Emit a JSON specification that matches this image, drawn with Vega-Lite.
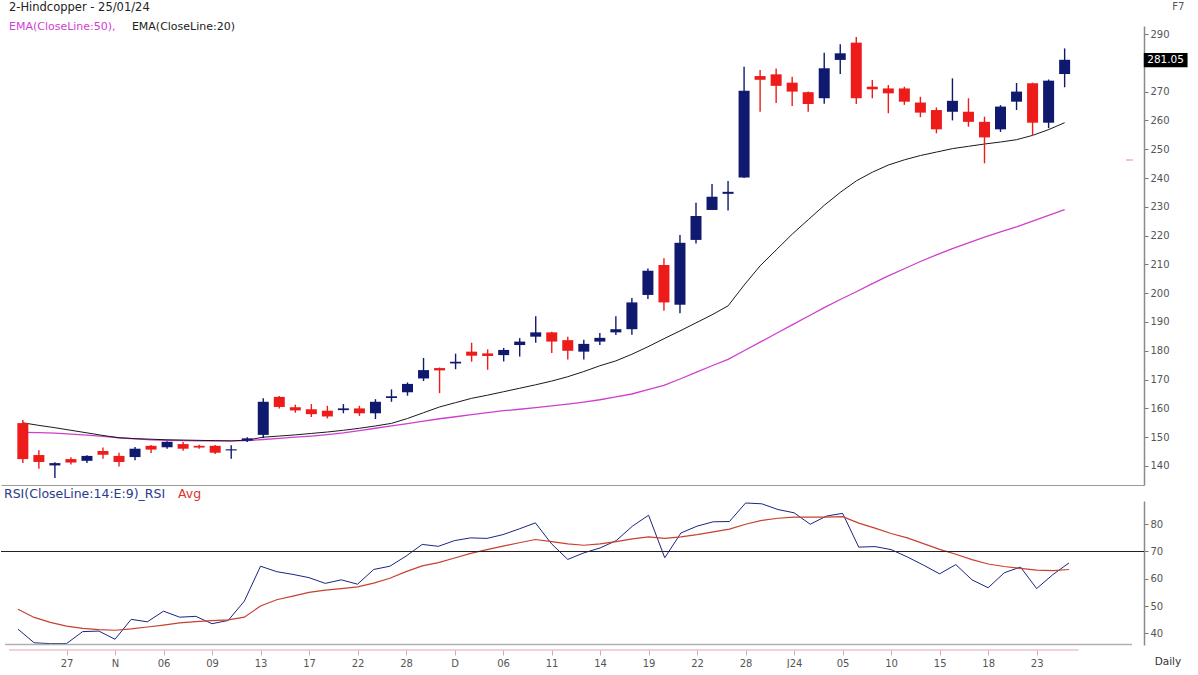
{
  "$schema": "https://vega.github.io/schema/vega-lite/v6.json",
  "background": "white",
  "padding": {"left": 0, "top": 2, "right": 0, "bottom": 0},
  "spacing": 3,
  "config": {"view": {"stroke": null}, "font": "DejaVu Sans"},
  "datasets": {
    "bars": [
      {"i":0,"open":154.9,"high":156.0,"low":141.0,"close":142.4,"ema20":155.0,"ema50":151.7,"rsi":41.5,"avg":48.8},
      {"i":1,"open":143.8,"high":145.5,"low":139.0,"close":141.4,"ema20":154.1,"ema50":151.6,"rsi":36.5,"avg":45.8},
      {"i":2,"open":140.2,"high":141.3,"low":135.8,"close":141.0,"ema20":153.3,"ema50":151.4,"rsi":36.2,"avg":44.0},
      {"i":3,"open":142.4,"high":143.0,"low":140.5,"close":141.2,"ema20":152.4,"ema50":151.1,"rsi":36.2,"avg":42.6},
      {"i":4,"open":141.8,"high":143.7,"low":141.0,"close":143.5,"ema20":151.5,"ema50":150.7,"rsi":40.6,"avg":41.8},
      {"i":5,"open":145.2,"high":146.4,"low":142.5,"close":143.9,"ema20":150.6,"ema50":150.3,"rsi":40.8,"avg":41.3},
      {"i":6,"open":143.5,"high":144.6,"low":139.8,"close":141.4,"ema20":149.8,"ema50":149.8,"rsi":37.8,"avg":41.1},
      {"i":7,"open":143.1,"high":146.6,"low":142.0,"close":146.0,"ema20":149.5,"ema50":149.4,"rsi":45.1,"avg":41.6},
      {"i":8,"open":147.0,"high":147.3,"low":144.5,"close":145.7,"ema20":149.3,"ema50":149.1,"rsi":44.2,"avg":42.3},
      {"i":9,"open":146.5,"high":148.6,"low":146.0,"close":148.4,"ema20":149.1,"ema50":148.9,"rsi":48.1,"avg":43.0},
      {"i":10,"open":147.6,"high":148.3,"low":145.3,"close":146.0,"ema20":149.0,"ema50":148.8,"rsi":45.9,"avg":43.8},
      {"i":11,"open":147.0,"high":147.4,"low":146.0,"close":146.4,"ema20":148.9,"ema50":148.7,"rsi":46.2,"avg":44.3},
      {"i":12,"open":147.0,"high":147.3,"low":144.2,"close":144.6,"ema20":148.8,"ema50":148.7,"rsi":43.5,"avg":44.6},
      {"i":13,"open":145.4,"high":147.2,"low":142.5,"close":145.8,"ema20":148.7,"ema50":148.7,"rsi":44.7,"avg":44.9},
      {"i":14,"open":148.8,"high":150.0,"low":148.3,"close":149.6,"ema20":149.0,"ema50":148.8,"rsi":51.8,"avg":45.9},
      {"i":15,"open":150.8,"high":163.5,"low":149.7,"close":162.3,"ema20":150.0,"ema50":149.2,"rsi":64.6,"avg":50.0},
      {"i":16,"open":164.0,"high":164.3,"low":160.0,"close":160.5,"ema20":150.4,"ema50":149.6,"rsi":62.6,"avg":52.3},
      {"i":17,"open":160.4,"high":161.3,"low":158.5,"close":159.3,"ema20":150.8,"ema50":150.0,"rsi":61.6,"avg":53.6},
      {"i":18,"open":159.7,"high":161.5,"low":157.0,"close":158.0,"ema20":151.3,"ema50":150.4,"rsi":60.4,"avg":55.0},
      {"i":19,"open":159.2,"high":160.9,"low":156.5,"close":157.2,"ema20":151.8,"ema50":150.9,"rsi":58.3,"avg":55.8},
      {"i":20,"open":159.4,"high":161.5,"low":158.3,"close":160.0,"ema20":152.4,"ema50":151.5,"rsi":59.6,"avg":56.4},
      {"i":21,"open":160.0,"high":160.9,"low":157.4,"close":158.3,"ema20":153.1,"ema50":152.3,"rsi":58.0,"avg":57.0},
      {"i":22,"open":158.3,"high":163.2,"low":156.3,"close":162.3,"ema20":153.9,"ema50":153.1,"rsi":63.4,"avg":58.4},
      {"i":23,"open":163.6,"high":166.6,"low":162.3,"close":164.2,"ema20":154.8,"ema50":153.9,"rsi":64.6,"avg":60.2},
      {"i":24,"open":165.6,"high":169.0,"low":164.4,"close":168.5,"ema20":156.5,"ema50":154.7,"rsi":68.3,"avg":62.6},
      {"i":25,"open":170.4,"high":177.5,"low":169.5,"close":173.3,"ema20":158.5,"ema50":155.6,"rsi":72.6,"avg":64.7},
      {"i":26,"open":174.0,"high":174.2,"low":165.3,"close":173.2,"ema20":160.5,"ema50":156.4,"rsi":71.9,"avg":65.9},
      {"i":27,"open":175.6,"high":179.0,"low":173.6,"close":176.2,"ema20":162.0,"ema50":157.1,"rsi":74.0,"avg":67.6},
      {"i":28,"open":179.7,"high":182.8,"low":176.2,"close":178.3,"ema20":163.5,"ema50":157.8,"rsi":75.0,"avg":69.3},
      {"i":29,"open":179.1,"high":180.5,"low":173.4,"close":178.2,"ema20":164.6,"ema50":158.5,"rsi":74.8,"avg":70.7},
      {"i":30,"open":178.5,"high":181.0,"low":176.3,"close":180.3,"ema20":165.8,"ema50":159.2,"rsi":76.2,"avg":72.0},
      {"i":31,"open":182.0,"high":184.4,"low":178.0,"close":183.2,"ema20":167.0,"ema50":159.7,"rsi":78.3,"avg":73.2},
      {"i":32,"open":184.9,"high":192.0,"low":182.8,"close":186.4,"ema20":168.2,"ema50":160.3,"rsi":80.5,"avg":74.4},
      {"i":33,"open":186.4,"high":186.6,"low":179.2,"close":183.2,"ema20":169.5,"ema50":160.9,"rsi":72.8,"avg":73.6},
      {"i":34,"open":183.7,"high":184.9,"low":177.0,"close":180.0,"ema20":171.0,"ema50":161.5,"rsi":67.1,"avg":72.8},
      {"i":35,"open":179.7,"high":183.8,"low":177.0,"close":182.4,"ema20":172.8,"ema50":162.2,"rsi":69.5,"avg":72.3},
      {"i":36,"open":183.2,"high":186.2,"low":182.0,"close":184.5,"ema20":174.8,"ema50":163.0,"rsi":71.3,"avg":72.8},
      {"i":37,"open":186.4,"high":192.0,"low":185.5,"close":187.5,"ema20":176.5,"ema50":164.0,"rsi":74.0,"avg":73.6},
      {"i":38,"open":187.5,"high":198.3,"low":185.6,"close":196.8,"ema20":178.8,"ema50":165.0,"rsi":79.3,"avg":74.6},
      {"i":39,"open":199.4,"high":208.6,"low":198.0,"close":207.8,"ema20":181.4,"ema50":166.5,"rsi":83.3,"avg":75.4},
      {"i":40,"open":209.8,"high":212.1,"low":193.9,"close":196.8,"ema20":184.2,"ema50":168.0,"rsi":67.7,"avg":74.8},
      {"i":41,"open":196.0,"high":220.2,"low":193.0,"close":217.5,"ema20":186.9,"ema50":170.2,"rsi":76.8,"avg":75.4},
      {"i":42,"open":218.5,"high":231.4,"low":217.3,"close":226.8,"ema20":189.7,"ema50":172.5,"rsi":79.3,"avg":76.2},
      {"i":43,"open":228.9,"high":237.9,"low":228.9,"close":233.5,"ema20":192.5,"ema50":174.8,"rsi":80.9,"avg":77.2},
      {"i":44,"open":234.5,"high":239.0,"low":228.7,"close":235.2,"ema20":195.6,"ema50":177.0,"rsi":81.0,"avg":78.2},
      {"i":45,"open":240.2,"high":278.6,"low":240.0,"close":270.3,"ema20":202.8,"ema50":180.0,"rsi":87.8,"avg":80.0},
      {"i":46,"open":275.4,"high":277.5,"low":263.0,"close":274.1,"ema20":209.5,"ema50":183.0,"rsi":87.5,"avg":81.4},
      {"i":47,"open":276.0,"high":278.0,"low":266.0,"close":272.0,"ema20":215.0,"ema50":186.0,"rsi":85.4,"avg":82.2},
      {"i":48,"open":273.1,"high":275.2,"low":265.0,"close":270.0,"ema20":220.5,"ema50":189.0,"rsi":84.2,"avg":82.6},
      {"i":49,"open":269.8,"high":270.0,"low":263.0,"close":265.7,"ema20":225.5,"ema50":192.0,"rsi":80.0,"avg":82.6},
      {"i":50,"open":267.7,"high":283.5,"low":265.8,"close":278.1,"ema20":230.5,"ema50":195.0,"rsi":83.0,"avg":82.6},
      {"i":51,"open":281.0,"high":286.4,"low":276.1,"close":283.3,"ema20":235.0,"ema50":197.8,"rsi":84.0,"avg":82.8},
      {"i":52,"open":287.0,"high":289.0,"low":265.7,"close":267.7,"ema20":239.0,"ema50":200.5,"rsi":71.6,"avg":80.4},
      {"i":53,"open":271.7,"high":274.0,"low":267.7,"close":270.8,"ema20":242.0,"ema50":203.3,"rsi":71.8,"avg":78.6},
      {"i":54,"open":271.1,"high":272.3,"low":262.5,"close":269.4,"ema20":244.5,"ema50":206.0,"rsi":70.7,"avg":76.6},
      {"i":55,"open":271.1,"high":271.7,"low":265.4,"close":266.5,"ema20":246.3,"ema50":208.5,"rsi":68.0,"avg":75.0},
      {"i":56,"open":266.2,"high":268.2,"low":261.1,"close":262.7,"ema20":247.8,"ema50":211.0,"rsi":65.0,"avg":72.9},
      {"i":57,"open":263.6,"high":264.5,"low":255.5,"close":256.9,"ema20":249.0,"ema50":213.3,"rsi":61.8,"avg":70.8},
      {"i":58,"open":263.0,"high":274.6,"low":260.0,"close":266.8,"ema20":250.2,"ema50":215.5,"rsi":65.2,"avg":69.0},
      {"i":59,"open":263.0,"high":267.7,"low":257.8,"close":259.5,"ema20":251.0,"ema50":217.5,"rsi":59.6,"avg":67.0},
      {"i":60,"open":259.5,"high":261.3,"low":245.1,"close":254.1,"ema20":251.8,"ema50":219.5,"rsi":56.7,"avg":65.4},
      {"i":61,"open":256.9,"high":265.3,"low":256.0,"close":264.8,"ema20":252.5,"ema50":221.3,"rsi":62.2,"avg":64.5},
      {"i":62,"open":266.5,"high":273.0,"low":263.6,"close":270.0,"ema20":253.3,"ema50":223.0,"rsi":64.3,"avg":63.8},
      {"i":63,"open":272.9,"high":273.1,"low":254.9,"close":259.2,"ema20":254.8,"ema50":225.0,"rsi":56.4,"avg":63.2},
      {"i":64,"open":259.2,"high":274.2,"low":257.3,"close":273.8,"ema20":256.8,"ema50":227.0,"rsi":61.5,"avg":63.0},
      {"i":65,"open":276.1,"high":285.0,"low":271.5,"close":281.05,"ema20":259.2,"ema50":229.0,"rsi":65.8,"avg":63.4}
    ]
  },
  "vconcat": [
    {
      "width": 1143,
      "height": 459,
      "data": {"name": "bars"},
      "layer": [
        {
          "mark": {"type": "line", "color": "#cf3fcf", "strokeWidth": 1.3},
          "encoding": {
            "x": {"field": "i", "type": "quantitative", "scale": {"domain": [-1.051, 69.64], "nice": false, "zero": false},
                  "axis": {"title": null, "labels": false, "ticks": false, "grid": false, "domain": true, "domainColor": "#9a9a9a", "domainWidth": 1}},
            "y": {"field": "ema50", "type": "quantitative", "scale": {"domain": [133.4, 292.78], "nice": false, "zero": false},
                  "axis": {"title": null, "orient": "right", "grid": false, "values": [140,150,160,170,180,190,200,210,220,230,240,250,260,270,280,290],
                           "labelOverlap": false, "labelBound": false, "labelFlush": false,
                           "tickSize": 4, "labelPadding": 2, "domainColor": "#8a8a8a", "domainWidth": 1.5, "tickColor": "#777",
                           "labelColor": "#555", "labelFont": "DejaVu Sans", "labelFontSize": 10}}
          }
        },
        {
          "mark": {"type": "line", "color": "#1a1a1a", "strokeWidth": 1},
          "encoding": {
            "x": {"field": "i", "type": "quantitative",
                  "axis": {"title": null, "labels": false, "ticks": false, "grid": false, "domain": true, "domainColor": "#9a9a9a", "domainWidth": 1}},
            "y": {"field": "ema20", "type": "quantitative",
                  "axis": {"title": null, "orient": "right", "grid": false, "values": [140,150,160,170,180,190,200,210,220,230,240,250,260,270,280,290],
                           "labelOverlap": false, "labelBound": false, "labelFlush": false,
                           "tickSize": 4, "labelPadding": 2, "domainColor": "#8a8a8a", "domainWidth": 1.5, "tickColor": "#777",
                           "labelColor": "#555", "labelFont": "DejaVu Sans", "labelFontSize": 10}}
          }
        },
        {
          "mark": {"type": "rule", "strokeWidth": 1.4},
          "encoding": {
            "x": {"field": "i", "type": "quantitative",
                  "axis": {"title": null, "labels": false, "ticks": false, "grid": false, "domain": true, "domainColor": "#9a9a9a", "domainWidth": 1}},
            "y": {"field": "low", "type": "quantitative",
                  "axis": {"title": null, "orient": "right", "grid": false, "values": [140,150,160,170,180,190,200,210,220,230,240,250,260,270,280,290],
                           "labelOverlap": false, "labelBound": false, "labelFlush": false,
                           "tickSize": 4, "labelPadding": 2, "domainColor": "#8a8a8a", "domainWidth": 1.5, "tickColor": "#777",
                           "labelColor": "#555", "labelFont": "DejaVu Sans", "labelFontSize": 10}},
            "y2": {"field": "high"},
            "color": {"condition": {"test": "datum.close >= datum.open", "value": "#0f1a6e"}, "value": "#ee1b1b"}
          }
        },
        {
          "mark": {"type": "bar", "size": 11},
          "encoding": {
            "x": {"field": "i", "type": "quantitative",
                  "axis": {"title": null, "labels": false, "ticks": false, "grid": false, "domain": true, "domainColor": "#9a9a9a", "domainWidth": 1}},
            "y": {"field": "open", "type": "quantitative",
                  "axis": {"title": null, "orient": "right", "grid": false, "values": [140,150,160,170,180,190,200,210,220,230,240,250,260,270,280,290],
                           "labelOverlap": false, "labelBound": false, "labelFlush": false,
                           "tickSize": 4, "labelPadding": 2, "domainColor": "#8a8a8a", "domainWidth": 1.5, "tickColor": "#777",
                           "labelColor": "#555", "labelFont": "DejaVu Sans", "labelFontSize": 10}},
            "y2": {"field": "close"},
            "color": {"condition": {"test": "datum.close >= datum.open", "value": "#0f1a6e"}, "value": "#ee1b1b"}
          }
        },
        {
          "data": {"values": [{"label": "2-Hindcopper - 25/01/24"}]},
          "mark": {"type": "text", "align": "left", "baseline": "top", "fontSize": 11.5, "color": "#222"},
          "encoding": {"text": {"field": "label"},
                       "x": {"datum": -0.866, "type": "quantitative", "axis": {"title": null, "labels": false, "ticks": false, "grid": false, "domain": true, "domainColor": "#9a9a9a", "domainWidth": 1}},
                       "y": {"datum": 301.11, "type": "quantitative",
                             "axis": {"title": null, "orient": "right", "grid": false, "values": [140,150,160,170,180,190,200,210,220,230,240,250,260,270,280,290],
                                      "labelOverlap": false, "labelBound": false, "labelFlush": false,
                                      "tickSize": 4, "labelPadding": 2, "domainColor": "#8a8a8a", "domainWidth": 1.5, "tickColor": "#777",
                                      "labelColor": "#555", "labelFont": "DejaVu Sans", "labelFontSize": 10}}}
        },
        {
          "data": {"values": [{"label": "EMA(CloseLine:50),"}]},
          "mark": {"type": "text", "align": "left", "baseline": "top", "fontSize": 11, "color": "#d040d0"},
          "encoding": {"text": {"field": "label"},
                       "x": {"datum": -0.866, "type": "quantitative", "axis": {"title": null, "labels": false, "ticks": false, "grid": false, "domain": true, "domainColor": "#9a9a9a", "domainWidth": 1}},
                       "y": {"datum": 294.52, "type": "quantitative",
                             "axis": {"title": null, "orient": "right", "grid": false, "values": [140,150,160,170,180,190,200,210,220,230,240,250,260,270,280,290],
                                      "labelOverlap": false, "labelBound": false, "labelFlush": false,
                                      "tickSize": 4, "labelPadding": 2, "domainColor": "#8a8a8a", "domainWidth": 1.5, "tickColor": "#777",
                                      "labelColor": "#555", "labelFont": "DejaVu Sans", "labelFontSize": 10}}}
        },
        {
          "data": {"values": [{"label": "EMA(CloseLine:20)"}]},
          "mark": {"type": "text", "align": "left", "baseline": "top", "fontSize": 11, "color": "#222"},
          "encoding": {"text": {"field": "label"},
                       "x": {"datum": 6.803, "type": "quantitative", "axis": {"title": null, "labels": false, "ticks": false, "grid": false, "domain": true, "domainColor": "#9a9a9a", "domainWidth": 1}},
                       "y": {"datum": 294.52, "type": "quantitative",
                             "axis": {"title": null, "orient": "right", "grid": false, "values": [140,150,160,170,180,190,200,210,220,230,240,250,260,270,280,290],
                                      "labelOverlap": false, "labelBound": false, "labelFlush": false,
                                      "tickSize": 4, "labelPadding": 2, "domainColor": "#8a8a8a", "domainWidth": 1.5, "tickColor": "#777",
                                      "labelColor": "#555", "labelFont": "DejaVu Sans", "labelFontSize": 10}}}
        },
        {
          "data": {"values": [{"label": "F7"}]},
          "mark": {"type": "text", "align": "center", "baseline": "top", "fontSize": 10, "color": "#555"},
          "encoding": {"text": {"field": "label"},
                       "x": {"datum": 72.1, "type": "quantitative", "axis": {"title": null, "labels": false, "ticks": false, "grid": false, "domain": true, "domainColor": "#9a9a9a", "domainWidth": 1}},
                       "y": {"datum": 301.11, "type": "quantitative",
                             "axis": {"title": null, "orient": "right", "grid": false, "values": [140,150,160,170,180,190,200,210,220,230,240,250,260,270,280,290],
                                      "labelOverlap": false, "labelBound": false, "labelFlush": false,
                                      "tickSize": 4, "labelPadding": 2, "domainColor": "#8a8a8a", "domainWidth": 1.5, "tickColor": "#777",
                                      "labelColor": "#555", "labelFont": "DejaVu Sans", "labelFontSize": 10}}}
        },
        {
          "data": {"values": [{"last": 281.05}]},
          "mark": {"type": "rect", "color": "#000"},
          "encoding": {"x": {"datum": 69.94, "type": "quantitative", "axis": {"title": null, "labels": false, "ticks": false, "grid": false, "domain": true, "domainColor": "#9a9a9a", "domainWidth": 1}},
                       "x2": {"datum": 72.67},
                       "y": {"datum": 283.4, "type": "quantitative",
                             "axis": {"title": null, "orient": "right", "grid": false, "values": [140,150,160,170,180,190,200,210,220,230,240,250,260,270,280,290],
                                      "labelOverlap": false, "labelBound": false, "labelFlush": false,
                                      "tickSize": 4, "labelPadding": 2, "domainColor": "#8a8a8a", "domainWidth": 1.5, "tickColor": "#777",
                                      "labelColor": "#555", "labelFont": "DejaVu Sans", "labelFontSize": 10}},
                       "y2": {"datum": 278.5}}
        },
        {
          "data": {"values": [{"last": 281.05}]},
          "mark": {"type": "text", "align": "center", "baseline": "middle", "fontSize": 10.5, "color": "white"},
          "encoding": {"text": {"field": "last", "format": ".2f"},
                       "x": {"datum": 71.3, "type": "quantitative", "axis": {"title": null, "labels": false, "ticks": false, "grid": false, "domain": true, "domainColor": "#9a9a9a", "domainWidth": 1}},
                       "y": {"field": "last", "type": "quantitative",
                             "axis": {"title": null, "orient": "right", "grid": false, "values": [140,150,160,170,180,190,200,210,220,230,240,250,260,270,280,290],
                                      "labelOverlap": false, "labelBound": false, "labelFlush": false,
                                      "tickSize": 4, "labelPadding": 2, "domainColor": "#8a8a8a", "domainWidth": 1.5, "tickColor": "#777",
                                      "labelColor": "#555", "labelFont": "DejaVu Sans", "labelFontSize": 10}}}
        },
        {
          "data": {"values": [{"level": 246.25}]},
          "mark": {"type": "rule", "color": "#e58a8a", "strokeWidth": 1},
          "encoding": {"x": {"datum": 68.83, "type": "quantitative", "axis": {"title": null, "labels": false, "ticks": false, "grid": false, "domain": true, "domainColor": "#9a9a9a", "domainWidth": 1}},
                       "x2": {"datum": 69.26},
                       "y": {"field": "level", "type": "quantitative",
                             "axis": {"title": null, "orient": "right", "grid": false, "values": [140,150,160,170,180,190,200,210,220,230,240,250,260,270,280,290],
                                      "labelOverlap": false, "labelBound": false, "labelFlush": false,
                                      "tickSize": 4, "labelPadding": 2, "domainColor": "#8a8a8a", "domainWidth": 1.5, "tickColor": "#777",
                                      "labelColor": "#555", "labelFont": "DejaVu Sans", "labelFontSize": 10}}}
        }
      ]
    },
    {
      "width": 1143,
      "height": 144,
      "data": {"name": "bars"},
      "layer": [
        {
          "mark": {"type": "line", "color": "#1b2580", "strokeWidth": 1},
          "encoding": {
            "x": {"field": "i", "type": "quantitative", "scale": {"domain": [-1.051, 69.64], "nice": false, "zero": false},
                  "axis": {"title": null, "orient": "bottom", "grid": false, "domain": false, "offset": 5,
                           "values": [3,6,9,12,15,18,21,24,27,30,33,36,39,42,45,48,51,54,57,60,63],
                           "labelExpr": "['27','N','06','09','13','17','22','28','D','06','11','14','19','22','28','J24','05','10','15','18','23'][round((datum.value-3)/3)]",
                           "labelOverlap": false,
                           "tickColor": "#e3a6ad", "tickSize": 5, "labelPadding": 3, "labelColor": "#555", "labelFont": "DejaVu Sans", "labelFontSize": 10}},
            "y": {"field": "rsi", "type": "quantitative", "scale": {"domain": [35.69, 88.53], "nice": false, "zero": false},
                  "axis": {"title": null, "orient": "right", "grid": false, "values": [40,50,60,70,80],
                           "labelOverlap": false, "labelBound": false, "labelFlush": false,
                           "tickSize": 4, "labelPadding": 2, "domainColor": "#8a8a8a", "domainWidth": 1.5, "tickColor": "#777",
                           "labelColor": "#555", "labelFont": "DejaVu Sans", "labelFontSize": 10}}
          }
        },
        {
          "mark": {"type": "line", "color": "#c8402f", "strokeWidth": 1.2},
          "encoding": {
            "x": {"field": "i", "type": "quantitative",
                  "axis": {"title": null, "orient": "bottom", "grid": false, "domain": false, "offset": 5,
                           "values": [3,6,9,12,15,18,21,24,27,30,33,36,39,42,45,48,51,54,57,60,63],
                           "labelExpr": "['27','N','06','09','13','17','22','28','D','06','11','14','19','22','28','J24','05','10','15','18','23'][round((datum.value-3)/3)]",
                           "labelOverlap": false,
                           "tickColor": "#e3a6ad", "tickSize": 5, "labelPadding": 3, "labelColor": "#555", "labelFont": "DejaVu Sans", "labelFontSize": 10}},
            "y": {"field": "avg", "type": "quantitative",
                  "axis": {"title": null, "orient": "right", "grid": false, "values": [40,50,60,70,80],
                           "labelOverlap": false, "labelBound": false, "labelFlush": false,
                           "tickSize": 4, "labelPadding": 2, "domainColor": "#8a8a8a", "domainWidth": 1.5, "tickColor": "#777",
                           "labelColor": "#555", "labelFont": "DejaVu Sans", "labelFontSize": 10}}
          }
        },
        {
          "data": {"values": [{"level": 70}]},
          "mark": {"type": "rule", "color": "#222", "strokeWidth": 1.2},
          "encoding": {"y": {"field": "level", "type": "quantitative",
                             "axis": {"title": null, "orient": "right", "grid": false, "values": [40,50,60,70,80],
                                      "labelOverlap": false, "labelBound": false, "labelFlush": false,
                                      "tickSize": 4, "labelPadding": 2, "domainColor": "#8a8a8a", "domainWidth": 1.5, "tickColor": "#777",
                                      "labelColor": "#555", "labelFont": "DejaVu Sans", "labelFontSize": 10}}}
        },
        {
          "data": {"values": [{}]},
          "mark": {"type": "rule", "color": "#b0b0b0", "strokeWidth": 1.5},
          "encoding": {"x": {"datum": -0.8, "type": "quantitative",
                             "axis": {"title": null, "orient": "bottom", "grid": false, "domain": false, "offset": 5,
                                      "values": [3,6,9,12,15,18,21,24,27,30,33,36,39,42,45,48,51,54,57,60,63],
                                      "labelExpr": "['27','N','06','09','13','17','22','28','D','06','11','14','19','22','28','J24','05','10','15','18','23'][round((datum.value-3)/3)]",
                                      "labelOverlap": false,
                                      "tickColor": "#e3a6ad", "tickSize": 5, "labelPadding": 3, "labelColor": "#555", "labelFont": "DejaVu Sans", "labelFontSize": 10}},
                       "x2": {"datum": 68.9},
                       "y": {"datum": 35.85, "type": "quantitative",
                             "axis": {"title": null, "orient": "right", "grid": false, "values": [40,50,60,70,80],
                                      "labelOverlap": false, "labelBound": false, "labelFlush": false,
                                      "tickSize": 4, "labelPadding": 2, "domainColor": "#8a8a8a", "domainWidth": 1.5, "tickColor": "#777",
                                      "labelColor": "#555", "labelFont": "DejaVu Sans", "labelFontSize": 10}}}
        },
        {
          "data": {"values": [{}]},
          "mark": {"type": "rule", "color": "#e3a6ad", "strokeWidth": 1.2},
          "encoding": {"x": {"datum": -0.55, "type": "quantitative",
                             "axis": {"title": null, "orient": "bottom", "grid": false, "domain": false, "offset": 5,
                                      "values": [3,6,9,12,15,18,21,24,27,30,33,36,39,42,45,48,51,54,57,60,63],
                                      "labelExpr": "['27','N','06','09','13','17','22','28','D','06','11','14','19','22','28','J24','05','10','15','18','23'][round((datum.value-3)/3)]",
                                      "labelOverlap": false,
                                      "tickColor": "#e3a6ad", "tickSize": 5, "labelPadding": 3, "labelColor": "#555", "labelFont": "DejaVu Sans", "labelFontSize": 10}},
                       "x2": {"datum": 65.6},
                       "y": {"datum": 33.85, "type": "quantitative",
                             "axis": {"title": null, "orient": "right", "grid": false, "values": [40,50,60,70,80],
                                      "labelOverlap": false, "labelBound": false, "labelFlush": false,
                                      "tickSize": 4, "labelPadding": 2, "domainColor": "#8a8a8a", "domainWidth": 1.5, "tickColor": "#777",
                                      "labelColor": "#555", "labelFont": "DejaVu Sans", "labelFontSize": 10}}}
        },
        {
          "data": {"values": [{"label": "RSI(CloseLine:14:E:9)_RSI"}]},
          "mark": {"type": "text", "align": "left", "baseline": "top", "fontSize": 12.5, "color": "#2a3a8a"},
          "encoding": {"text": {"field": "label"},
                       "x": {"datum": -0.866, "type": "quantitative",
                             "axis": {"title": null, "orient": "bottom", "grid": false, "domain": false, "offset": 5,
                                      "values": [3,6,9,12,15,18,21,24,27,30,33,36,39,42,45,48,51,54,57,60,63],
                                      "labelExpr": "['27','N','06','09','13','17','22','28','D','06','11','14','19','22','28','J24','05','10','15','18','23'][round((datum.value-3)/3)]",
                                      "labelOverlap": false,
                                      "tickColor": "#e3a6ad", "tickSize": 5, "labelPadding": 3, "labelColor": "#555", "labelFont": "DejaVu Sans", "labelFontSize": 10}},
                       "y": {"datum": 93.3, "type": "quantitative",
                             "axis": {"title": null, "orient": "right", "grid": false, "values": [40,50,60,70,80],
                                      "labelOverlap": false, "labelBound": false, "labelFlush": false,
                                      "tickSize": 4, "labelPadding": 2, "domainColor": "#8a8a8a", "domainWidth": 1.5, "tickColor": "#777",
                                      "labelColor": "#555", "labelFont": "DejaVu Sans", "labelFontSize": 10}}}
        },
        {
          "data": {"values": [{"label": "Avg"}]},
          "mark": {"type": "text", "align": "left", "baseline": "top", "fontSize": 12.5, "color": "#d9342b"},
          "encoding": {"text": {"field": "label"},
                       "x": {"datum": 9.895, "type": "quantitative",
                             "axis": {"title": null, "orient": "bottom", "grid": false, "domain": false, "offset": 5,
                                      "values": [3,6,9,12,15,18,21,24,27,30,33,36,39,42,45,48,51,54,57,60,63],
                                      "labelExpr": "['27','N','06','09','13','17','22','28','D','06','11','14','19','22','28','J24','05','10','15','18','23'][round((datum.value-3)/3)]",
                                      "labelOverlap": false,
                                      "tickColor": "#e3a6ad", "tickSize": 5, "labelPadding": 3, "labelColor": "#555", "labelFont": "DejaVu Sans", "labelFontSize": 10}},
                       "y": {"datum": 93.3, "type": "quantitative",
                             "axis": {"title": null, "orient": "right", "grid": false, "values": [40,50,60,70,80],
                                      "labelOverlap": false, "labelBound": false, "labelFlush": false,
                                      "tickSize": 4, "labelPadding": 2, "domainColor": "#8a8a8a", "domainWidth": 1.5, "tickColor": "#777",
                                      "labelColor": "#555", "labelFont": "DejaVu Sans", "labelFontSize": 10}}}
        },
        {
          "data": {"values": [{"label": "Daily"}]},
          "mark": {"type": "text", "align": "center", "baseline": "middle", "fontSize": 10.5, "color": "#333"},
          "encoding": {"text": {"field": "label"},
                       "x": {"datum": 71.12, "type": "quantitative",
                             "axis": {"title": null, "orient": "bottom", "grid": false, "domain": false, "offset": 5,
                                      "values": [3,6,9,12,15,18,21,24,27,30,33,36,39,42,45,48,51,54,57,60,63],
                                      "labelExpr": "['27','N','06','09','13','17','22','28','D','06','11','14','19','22','28','J24','05','10','15','18','23'][round((datum.value-3)/3)]",
                                      "labelOverlap": false,
                                      "tickColor": "#e3a6ad", "tickSize": 5, "labelPadding": 3, "labelColor": "#555", "labelFont": "DejaVu Sans", "labelFontSize": 10}},
                       "y": {"datum": 29.27, "type": "quantitative",
                             "axis": {"title": null, "orient": "right", "grid": false, "values": [40,50,60,70,80],
                                      "labelOverlap": false, "labelBound": false, "labelFlush": false,
                                      "tickSize": 4, "labelPadding": 2, "domainColor": "#8a8a8a", "domainWidth": 1.5, "tickColor": "#777",
                                      "labelColor": "#555", "labelFont": "DejaVu Sans", "labelFontSize": 10}}}
        }
      ]
    }
  ]
}
